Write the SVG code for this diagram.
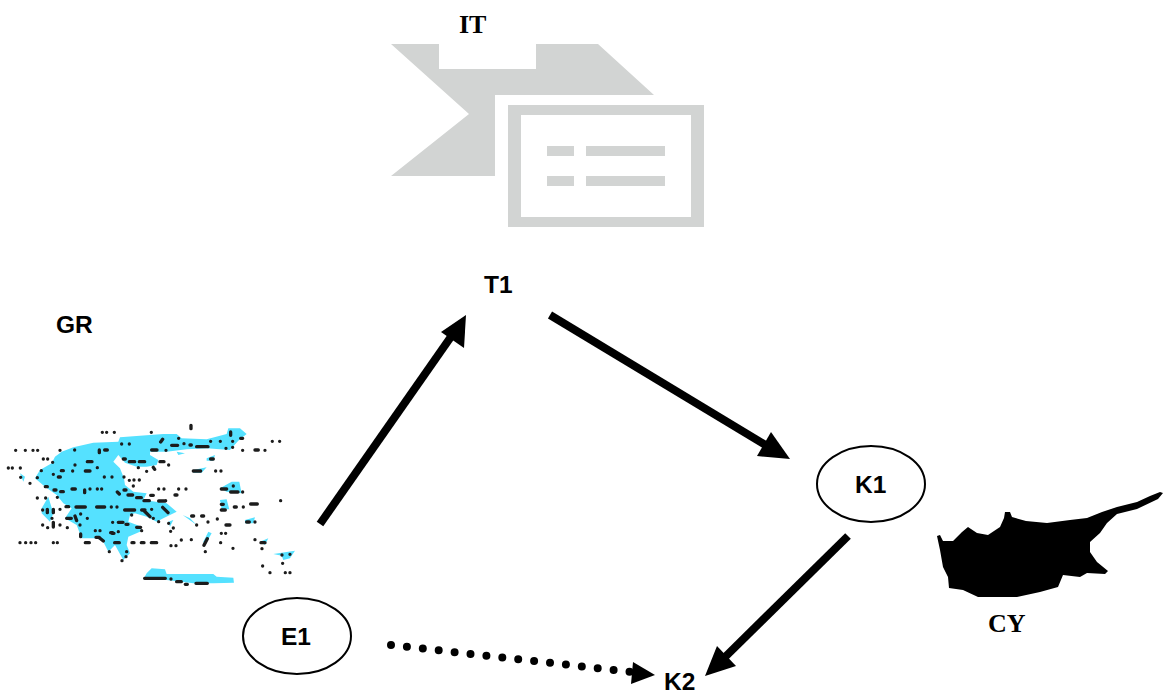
<svg xmlns="http://www.w3.org/2000/svg" width="1176" height="695" viewBox="0 0 1176 695">
<style>
text{font-weight:bold;fill:#000}
.s{font-family:"Liberation Sans",Arial,sans-serif;font-size:24.5px}
.r{font-family:"Liberation Serif","Times New Roman",serif;font-size:26px}
.g{fill:#d2d4d3}
.n{fill:#fff;stroke:#000;stroke-width:2}
.c{stroke:#000;stroke-width:8;fill:none}
.h{fill:#000}
.d{fill:none;stroke:#1c1c1c;stroke-width:10;stroke-linecap:round}
</style>
<rect width="1176" height="695" fill="#fff"/>
<g id="IT">
<path class="g" d="M391 44H439V69H536V44H598L654 95H495V176H391L469 114Z"/>
<path class="g" fill-rule="evenodd" d="M508 105H704V227H508ZM521 115V217H691V115Z"/>
<rect class="g" x="547" y="146" width="27" height="10"/><rect class="g" x="586" y="146" width="79" height="10"/>
<rect class="g" x="547" y="176" width="27" height="10"/><rect class="g" x="586" y="176" width="79" height="10"/>
<text class="r" x="459" y="33">IT</text>
</g>
<g id="T1"><text class="s" x="484" y="293">T1</text></g>
<g id="GR">
<text class="s" x="56" y="333">GR</text>
<g transform="translate(0 410) scale(.3333)">
<path fill="#55e1ff" d="M105 205L120 180 155 160 165 140 185 125 220 112 280 98 355 95 360 82 490 72 530 72 545 85 620 88 680 72 685 55 720 55 740 72 715 92 690 120 620 115 560 118 500 125 450 125 450 135 475 150 470 165 440 170 410 170 375 158 355 135 340 155 360 175 372 205 375 225 400 245 440 250 430 270 500 280 530 305 490 325 470 335 440 320 405 310 390 315 385 335 425 350 420 365 385 380 380 405 390 430 370 450 345 405 325 425 310 395 290 385 245 385 230 345 195 325 215 295 190 280 170 255 135 230ZM440 490L455 475 495 478 500 492 640 492 650 500 700 503 702 518 640 520 580 520 500 510 430 508ZM660 235L695 215 718 215 725 250 680 245ZM660 270L680 268 688 298 665 298ZM820 432L885 422 870 445 850 450 845 437ZM548 315L590 345 570 325ZM625 365L635 370 615 405 610 395ZM735 330L765 322 760 340 735 340ZM780 395L805 385 795 405ZM580 180L620 172 605 188 580 188ZM620 145L645 135 640 152 620 152ZM125 295L145 260 160 310 150 335 125 310ZM60 190L75 200 70 215ZM530 125L555 130 535 135ZM505 335L520 330 510 350Z"/>
<path class="d" d="M307 67h0M320 67h0M343 67h0M454 67h0M573 46v10M692 66v10M817 94h0M839 94h0M47 121h0M76 121h0M99 121h0M113 121h0M180 121h0M224 120h0M298 120v8M314 120h8M365 102h0M388 102h0M455 120h16M498 121h0M488 88l-6 8M536 85h0M515 106h18M552 101h0M570 105h4M590 110h34M632 94h0M661 94h0M698 94h0M722 85h6M678 115h0M698 112h0M728 121h0M765 120h10M795 121h0M130 147h0M143 147h0M158 157h0M225 165h0M262 155h14M370 147h6M388 155h16M418 155h16M480 155h12M506 165h0M632 147h8M37 174h0M25 174h0M61 174h0M124 182h0M160 193h0M184 182h6M218 183h0M256 183h14M292 173h0M415 173h0M440 184h0M460 172l4 6M580 183h22M647 183h0M663 183h0M62 202h0M90 220h0M112 203h0M175 201h6M313 201h0M336 201h0M372 201h0M388 211h0M402 210h0M418 210h0M136 230h6M162 240h6M182 245h8M216 237h10M254 240v8M270 237h0M292 237h0M305 237h0M352 246l6 6M372 240h6M400 228h0M476 237h0M492 237h0M536 237h0M558 237h0M525 255h6M664 237h16M692 246h22M700 228h0M728 246h0M112 264h0M137 264h0M172 262h0M384 255h14M410 263h14M432 272h16M452 256h8M476 273h20M497 272h0M842 272h0M752 282h20M128 300h0M142 298v10M160 298v10M180 298h0M198 290h8M228 291h28M290 291h24M334 291h0M351 291h0M374 300h30M425 300h10M455 298h0M488 292l16 16M664 283h6M703 291h6M730 291h0M664 300h12M156 325h0M200 325h14M225 318l5 14M242 312h0M262 325h0M430 300l20 20M460 325h0M476 335h0M338 337h0M355 337h14M378 343h6M395 315h0M575 318h6M605 318h6M652 327h0M624 336h0M740 336h8M765 336h0M128 345h0M143 353h0M160 337v14M180 345h0M202 353h0M240 345h0M355 365h0M332 368h6M286 362h0M300 362h0M410 352h12M425 362h0M520 354h0M506 340h0M590 345h0M678 345h12M512 364h0M664 370h0M677 370h0M242 372v8M288 382h10M300 385l10 8M336 370h6M60 398h0M77 398h0M93 398h0M107 398h0M160 398h0M172 398h0M256 398h12M344 398h14M396 398h6M424 398h8M454 398h16M513 407h0M528 407h0M544 390h0M574 389h0M622 386l-10 20M662 398h0M765 389h0M783 398h12M699 415h0M786 416h0M328 425h0M380 425h0M378 440h0M366 452h0M616 425h0M846 435h0M870 433h0M848 460h0M788 468h0M810 488h0M856 488h0M870 488h0M434 505h62M513 507h0M530 515h14M556 523h6M588 520h34"/>
</g>
</g>
<g id="CY">
<path d="M937 536L940 535 943 541 953 541 962 532 968 527 977 533 988 535 1000 527 1004 518 1005 512 1010 512 1012 517 1026 521 1047 523 1070 520 1087 518 1102 512 1117 507 1137 502 1150 496 1160 492 1163 493 1158 499 1137 509 1117 514 1107 523 1100 533 1090 542 1090 552 1097 562 1108 571 1105 574 1087 573 1080 577 1063 575 1058 587 1040 592 1017 597 978 597 963 590 949 588 948 577 943 567 940 550Z"/>
<text class="r" x="988" y="632">CY</text>
</g>
<g id="E1"><ellipse class="n" cx="297" cy="636" rx="54" ry="38"/><text class="s" x="281" y="645">E1</text></g>
<g id="K1"><ellipse class="n" cx="871" cy="484" rx="54" ry="38"/><text class="s" x="855" y="493">K1</text></g>
<g id="K2"><text class="s" x="664" y="690">K2</text></g>
<g id="connectors">
<path class="c" d="M320 524L455 331"/><path class="h" d="M466 315L464 348 441 332Z"/>
<path class="c" d="M550 315L772 449"/><path class="h" d="M790 459L757 456 771 432Z"/>
<path class="c" d="M848 536L720 662"/><path class="h" d="M705 676L717 646 736 666Z"/>
<path d="M391 645L632 672" fill="none" stroke="#000" stroke-width="8" stroke-linecap="round" stroke-dasharray="0 16"/><path class="h" d="M655 675L633 662 631 684Z"/>
</g>
</svg>
